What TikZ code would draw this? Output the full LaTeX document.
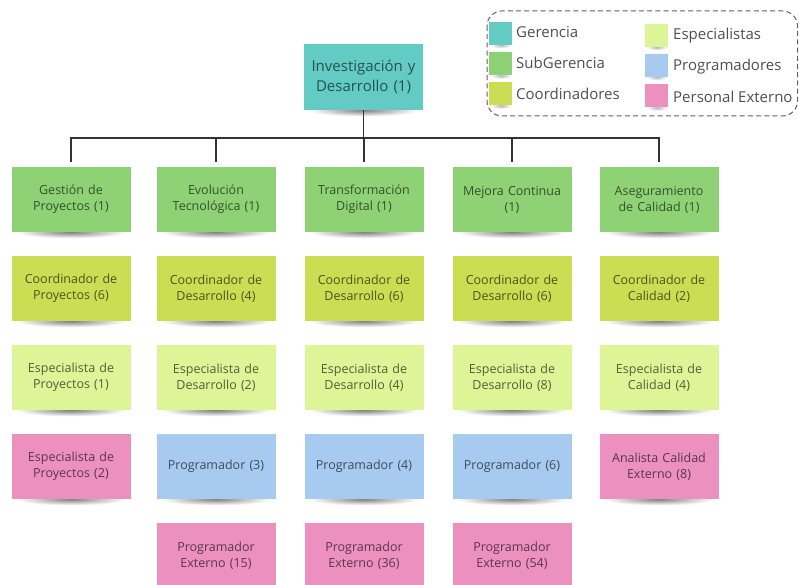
\documentclass[tikz,border=0pt]{standalone}
\usepackage{fontspec}
\setmainfont{Open Sans}
\usetikzlibrary{calc,backgrounds}

\definecolor{cGer}{HTML}{62CBC3}
\definecolor{cSub}{HTML}{8ED275}
\definecolor{cCoo}{HTML}{C9DE52}
\definecolor{cEsp}{HTML}{DDF597}
\definecolor{cPro}{HTML}{A7CAF0}
\definecolor{cExt}{HTML}{EC90BF}
\definecolor{cLine}{HTML}{333333}
\definecolor{cLeg}{HTML}{4F4F4F}

\tikzset{
  note/.style={fill=#1, minimum width=119pt, minimum height=65pt, inner sep=0pt,
    align=center, text width=112pt, text=black, text opacity=0.62,
    font=\fontsize{12.5}{16}\selectfont},
  topnote/.style={note=cGer, minimum height=66pt, text opacity=0.6,
    font=\fontsize{15}{20.5}\selectfont},
  swatch/.style={fill=#1, minimum width=23pt, minimum height=23pt, inner sep=0pt},
  legtext/.style={anchor=west, inner sep=0pt, text=cLeg,
    font=\fontsize{15}{18}\selectfont},
  conn/.style={draw=cLine, line width=1.1pt},
  legframe/.style={draw=cLeg!90, line width=1pt, dash pattern=on 5pt off 3.2pt,
    rounded corners=15pt}
}

% soft shadow under a sticky note
\newcommand{\noteshadow}[1]{%
  \shade[inner color=black!50, outer color=white]
    ($(#1.south west)+(5,-6)$) rectangle ($(#1.south east)+(-5,6)$);}
\newcommand{\swatchshadow}[1]{%
  \shade[inner color=black!30, outer color=white]
    ($(#1.south west)+(2,-3)$) rectangle ($(#1.south east)+(-1,3)$);}

\begin{document}
\begin{tikzpicture}[x=1pt, y=-1pt]
\useasboundingbox (0,0) rectangle (799,585);
\clip (0,0) rectangle (799,585);

% head of the department
\node[topnote] (top) at (363.5,77) {Investigación y\\Desarrollo (1)};

% column 1
\node[note=cSub] (g1) at (71,199.5) {Gestión de\\Proyectos (1)};
\node[note=cCoo] (c1) at (71,288.5) {Coordinador de\\Proyectos (6)};
\node[note=cEsp] (e1) at (71,377.5) {Especialista de\\Proyectos (1)};
\node[note=cExt] (x1) at (71,466.5) {Especialista de\\Proyectos (2)};
% column 2
\node[note=cSub] (g2) at (216,199.5) {Evolución\\Tecnológica (1)};
\node[note=cCoo] (c2) at (216,288.5) {Coordinador de\\Desarrollo (4)};
\node[note=cEsp] (e2) at (216,377.5) {Especialista de\\Desarrollo (2)};
\node[note=cPro] (p2) at (216,466.5) {Programador (3)};
\node[note=cExt] (x2) at (216,555.5) {Programador\\Externo (15)};
% column 3
\node[note=cSub] (g3) at (364,199.5) {Transformación\\Digital (1)};
\node[note=cCoo] (c3) at (364,288.5) {Coordinador de\\Desarrollo (6)};
\node[note=cEsp] (e3) at (364,377.5) {Especialista de\\Desarrollo (4)};
\node[note=cPro] (p3) at (364,466.5) {Programador (4)};
\node[note=cExt] (x3) at (364,555.5) {Programador\\Externo (36)};
% column 4
\node[note=cSub] (g4) at (512,199.5) {Mejora Continua\\(1)};
\node[note=cCoo] (c4) at (512,288.5) {Coordinador de\\Desarrollo (6)};
\node[note=cEsp] (e4) at (512,377.5) {Especialista de\\Desarrollo (8)};
\node[note=cPro] (p4) at (512,466.5) {Programador (6)};
\node[note=cExt] (x4) at (512,555.5) {Programador\\Externo (54)};
% column 5
\node[note=cSub] (g5) at (659,199.5) {Aseguramiento\\de Calidad (1)};
\node[note=cCoo] (c5) at (659,288.5) {Coordinador de\\Calidad (2)};
\node[note=cEsp] (e5) at (659,377.5) {Especialista de\\Calidad (4)};
\node[note=cExt] (x5) at (659,466.5) {Analista Calidad\\Externo (8)};

% connectors
\coordinate (bus) at (363.5,138);
\draw[conn] (top.south) -- (bus);
\foreach \n in {g1,g2,g3,g4,g5}
  {\draw[conn, shorten >=5pt] (bus) -| (\n.north);}

% legend
\draw[legframe] (487,11) rectangle (797.5,116);
\node[swatch=cGer] (sGer) at (500.5,33.5) {};
\node[swatch=cSub] (sSub) at (500.5,64) {};
\node[swatch=cCoo] (sCoo) at (500.5,94) {};
\node[swatch=cEsp] (sEsp) at (656.5,35.5) {};
\node[swatch=cPro] (sPro) at (656.5,65.5) {};
\node[swatch=cExt] (sExt) at (656.5,96) {};
\node[legtext] (lGer) at (516,32) {Gerencia};
\node[legtext] (lSub) at (516,63) {SubGerencia};
\node[legtext] (lCoo) at (516,93.5) {Coordinadores};
\node[legtext] (lEsp) at (673,35.5) {Especialistas};
\node[legtext] (lPro) at (673,66.5) {Programadores};
\node[legtext] (lExt) at (673,97) {Personal Externo};

% shadows beneath the notes
\begin{scope}[on background layer]
  \foreach \n in {top,g1,c1,e1,x1,g2,c2,e2,p2,x2,g3,c3,e3,p3,x3,
                  g4,c4,e4,p4,x4,g5,c5,e5,x5}
    {\noteshadow{\n}}
  \foreach \n in {sGer,sSub,sCoo,sEsp,sPro,sExt}
    {\swatchshadow{\n}}
\end{scope}
\end{tikzpicture}
\end{document}
